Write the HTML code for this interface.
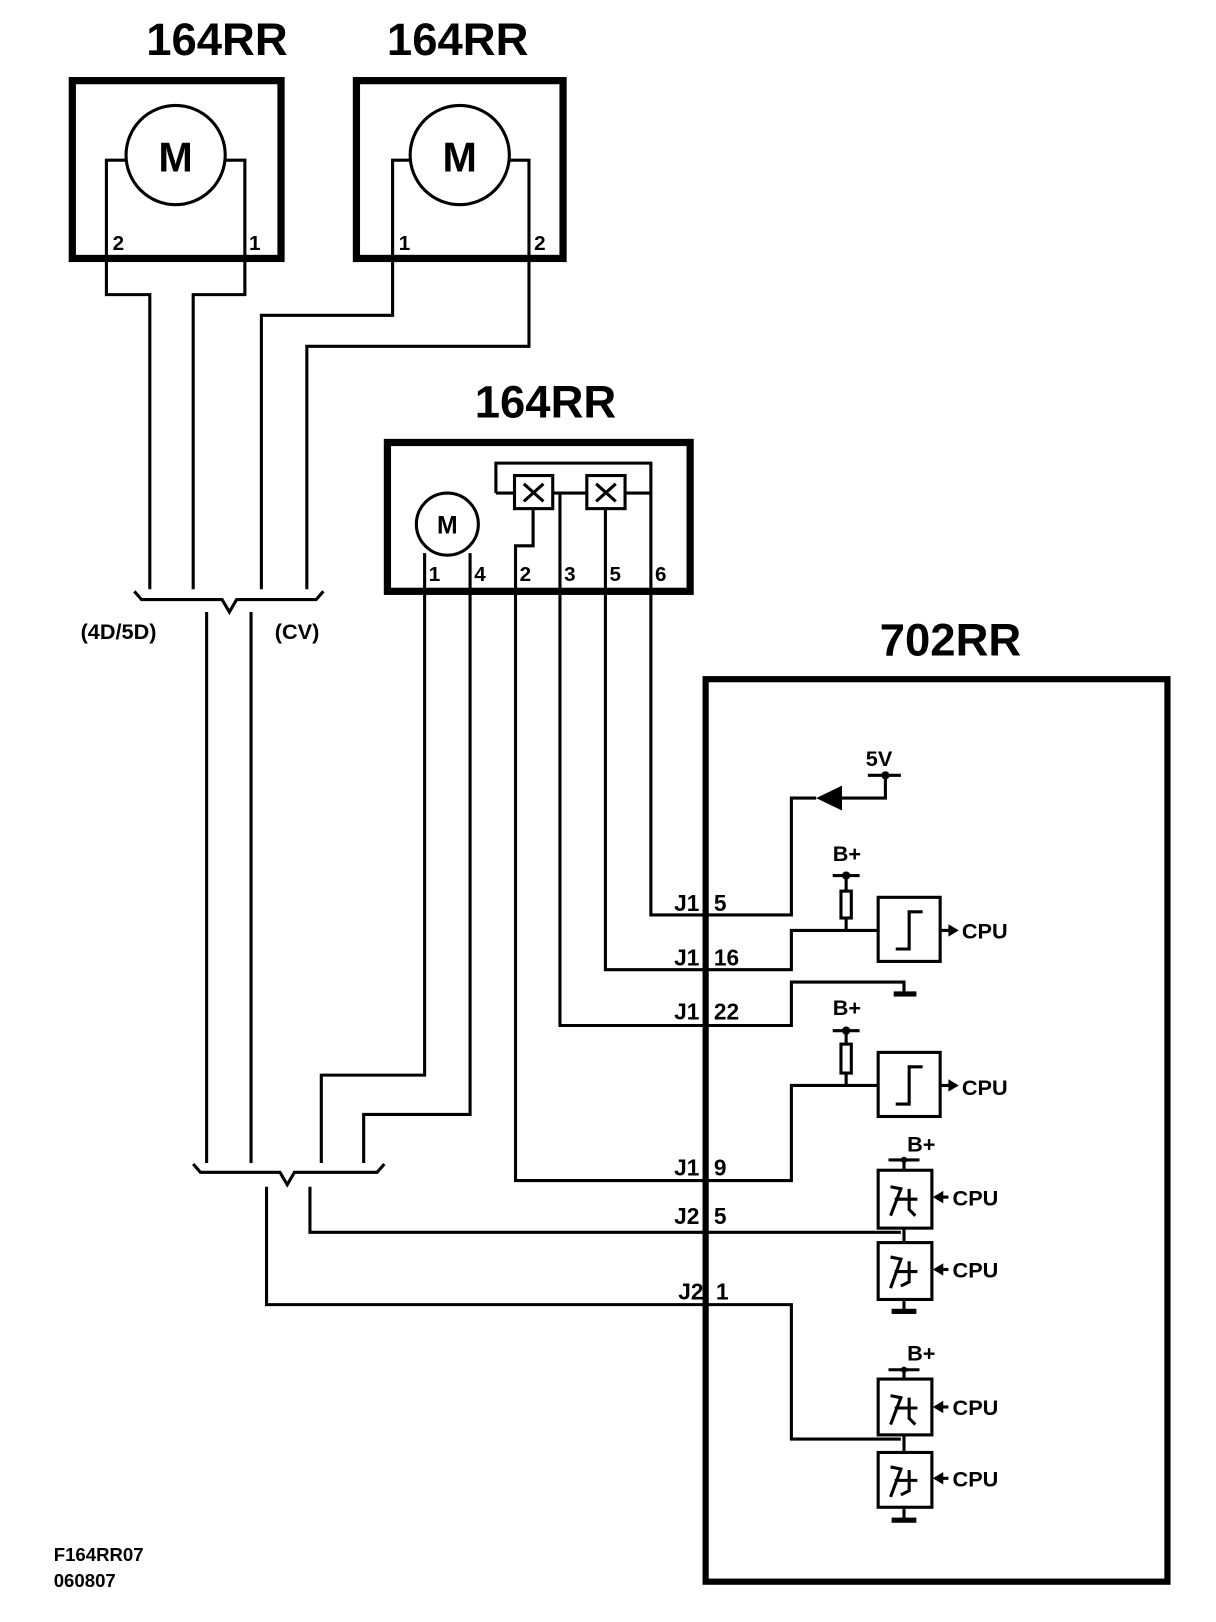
<!DOCTYPE html>
<html><head><meta charset="utf-8"><style>
html,body{margin:0;padding:0;background:#fff}
svg{display:block}
text{font-family:"Liberation Sans",Arial,sans-serif;font-weight:bold;fill:#000}
</style></head><body>
<svg width="1216" height="1622" viewBox="0 0 1177 1569" preserveAspectRatio="none" xmlns="http://www.w3.org/2000/svg">
<g fill="none" stroke="#000" stroke-width="3">
<rect x="70" y="78" width="202" height="172" stroke-width="7"/>
<circle cx="170" cy="150" r="48"/>
<polyline points="122,155 103,155 103,285 145,285 145,570"/>
<polyline points="218,155 237,155 237,285 187,285 187,570"/>
<rect x="345" y="78" width="200" height="172" stroke-width="7"/>
<circle cx="445" cy="150" r="48"/>
<polyline points="397,155 380,155 380,305 253,305 253,570"/>
<polyline points="493,155 512,155 512,335 297,335 297,570"/>
<path d="M130,572 L137,580 L215,580 L222,592 L229,580 L306,580 L313,572"/>
<line x1="200" y1="592" x2="200" y2="1125"/>
<line x1="243" y1="592" x2="243" y2="1125"/>
<rect x="375" y="428" width="293" height="144" stroke-width="7"/>
<circle cx="433" cy="507" r="30"/>
<polyline points="480,477 480,448 630,448 630,572"/>
<line x1="480" y1="477" x2="498" y2="477"/>
<rect x="498" y="460" width="37" height="32"/>
<rect x="568" y="460" width="37" height="32"/>
<path d="M507,468 L526,485 M526,468 L507,485 M577,468 L596,485 M596,468 L577,485"/>
<line x1="535" y1="477" x2="568" y2="477"/>
<line x1="605" y1="477" x2="630" y2="477"/>
<polyline points="516,492 516,528 499,528 499,572"/>
<line x1="542" y1="477" x2="542" y2="572"/>
<line x1="586" y1="492" x2="586" y2="572"/>
<polyline points="411,535 411,1040 311,1040 311,1125"/>
<polyline points="455,535 455,1078 352,1078 352,1125"/>
<polyline points="499,572 499,1142 766,1142 766,1050 850,1050"/>
<polyline points="542,572 542,992 766,992 766,950 875,950 875,960"/>
<polyline points="586,572 586,938 766,938 766,900 850,900"/>
<polyline points="630,572 630,885 766,885 766,772 790,772"/>
<path d="M187,1126 L194,1134 L271,1134 L278,1146 L285,1134 L365,1134 L372,1126"/>
<polyline points="300,1148 300,1192 872,1192"/>
<polyline points="258,1148 258,1262 766,1262 766,1392 872,1392"/>
<rect x="683" y="657" width="447" height="873" stroke-width="6"/>
<line x1="840" y1="750" x2="872" y2="750"/>
<polyline points="857,750 857,772 815,772"/>
<line x1="806" y1="847" x2="832" y2="847"/>
<line x1="819" y1="847" x2="819" y2="900"/>
<rect x="814" y="862" width="10" height="26" fill="#fff"/>
<rect x="850" y="868" width="60" height="62"/>
<polyline points="867,918 880,918 880,882 893,882"/>
<line x1="910" y1="900" x2="920" y2="900"/>
<line x1="806" y1="997" x2="832" y2="997"/>
<line x1="819" y1="997" x2="819" y2="1050"/>
<rect x="814" y="1010" width="10" height="28" fill="#fff"/>
<rect x="850" y="1018" width="60" height="62"/>
<polyline points="867,1068 880,1068 880,1032 893,1032"/>
<line x1="910" y1="1050" x2="920" y2="1050"/>
<line x1="860" y1="1122" x2="890" y2="1122"/>
<line x1="875" y1="1122" x2="875" y2="1132"/>
<rect x="850" y="1132" width="52" height="56"/>
<line x1="875" y1="1188" x2="875" y2="1202"/>
<rect x="850" y="1202" width="52" height="55"/>
<line x1="875" y1="1257" x2="875" y2="1268"/>
<line x1="905" y1="1158" x2="918" y2="1158"/>
<line x1="905" y1="1228" x2="918" y2="1228"/>
<line x1="860" y1="1325" x2="890" y2="1325"/>
<line x1="875" y1="1325" x2="875" y2="1334"/>
<rect x="850" y="1334" width="52" height="54"/>
<line x1="875" y1="1388" x2="875" y2="1405"/>
<rect x="850" y="1405" width="52" height="53"/>
<line x1="875" y1="1458" x2="875" y2="1470"/>
<line x1="905" y1="1361" x2="918" y2="1361"/>
<line x1="905" y1="1430" x2="918" y2="1430"/>
<g stroke-width="3">
<path d="M862,1148 L872,1150 L862,1176 M866,1160 L888,1160 M880,1150 L880,1170 L886,1176"/>
<path d="M862,1216 L872,1218 L862,1246 M866,1230 L888,1230 M880,1220 L880,1240 L872,1244"/>
<path d="M862,1350 L872,1352 L862,1378 M866,1362 L888,1362 M880,1352 L880,1372 L886,1378"/>
<path d="M862,1419 L872,1421 L862,1448 M866,1432 L888,1432 M880,1422 L880,1442 L872,1446"/>
</g>
</g>
<g fill="#000" stroke="none">
<polygon points="790,772 815,760 815,784"/>
<circle cx="857" cy="750" r="4"/>
<circle cx="819" cy="847" r="4"/>
<circle cx="819" cy="997" r="4"/>
<circle cx="875" cy="1122" r="3"/>
<circle cx="875" cy="1325" r="3"/>
<rect x="865" y="959" width="22" height="5"/>
<rect x="863" y="1266" width="24" height="5"/>
<rect x="863" y="1468" width="24" height="5"/>
<polygon points="928,900 918,894 918,906"/>
<polygon points="928,1050 918,1044 918,1056"/>
<polygon points="903,1158 913,1152 913,1164"/>
<polygon points="903,1228 913,1222 913,1234"/>
<polygon points="903,1361 913,1355 913,1367"/>
<polygon points="903,1430 913,1424 913,1436"/>
</g>
<g>
<text x="210" y="53" font-size="44" text-anchor="middle">164RR</text>
<text x="443" y="53" font-size="44" text-anchor="middle">164RR</text>
<text x="528" y="404" font-size="44" text-anchor="middle">164RR</text>
<text x="920" y="634" font-size="44" text-anchor="middle">702RR</text>
<text x="170" y="166" font-size="40" text-anchor="middle">M</text>
<text x="445" y="166" font-size="40" text-anchor="middle">M</text>
<text x="433" y="516" font-size="24" text-anchor="middle">M</text>
<text x="109" y="242" font-size="20">2</text>
<text x="241" y="242" font-size="20">1</text>
<text x="386" y="242" font-size="20">1</text>
<text x="517" y="242" font-size="20">2</text>
<text x="415" y="562" font-size="20">1</text>
<text x="459" y="562" font-size="20">4</text>
<text x="503" y="562" font-size="20">2</text>
<text x="546" y="562" font-size="20">3</text>
<text x="590" y="562" font-size="20">5</text>
<text x="634" y="562" font-size="20">6</text>
<text x="78" y="618" font-size="21">(4D/5D)</text>
<text x="266" y="618" font-size="21">(CV)</text>
<g font-size="22">
<text x="677" y="881" text-anchor="end">J1</text><text x="691" y="881">5</text>
<text x="677" y="934" text-anchor="end">J1</text><text x="691" y="934">16</text>
<text x="677" y="986" text-anchor="end">J1</text><text x="691" y="986">22</text>
<text x="677" y="1137" text-anchor="end">J1</text><text x="691" y="1137">9</text>
<text x="677" y="1184" text-anchor="end">J2</text><text x="691" y="1184">5</text>
<text x="681" y="1257" text-anchor="end">J2</text><text x="693" y="1257">1</text>
</g>
<g font-size="21">
<text x="838" y="741">5V</text>
<text x="806" y="833">B+</text>
<text x="806" y="982">B+</text>
<text x="878" y="1114">B+</text>
<text x="878" y="1316">B+</text>
<text x="931" y="908">CPU</text>
<text x="931" y="1059">CPU</text>
<text x="922" y="1166">CPU</text>
<text x="922" y="1236">CPU</text>
<text x="922" y="1369">CPU</text>
<text x="922" y="1438">CPU</text>
</g>
<text x="52" y="1510" font-size="18">F164RR07</text>
<text x="52" y="1535" font-size="18">060807</text>
</g>
</svg>
</body></html>
